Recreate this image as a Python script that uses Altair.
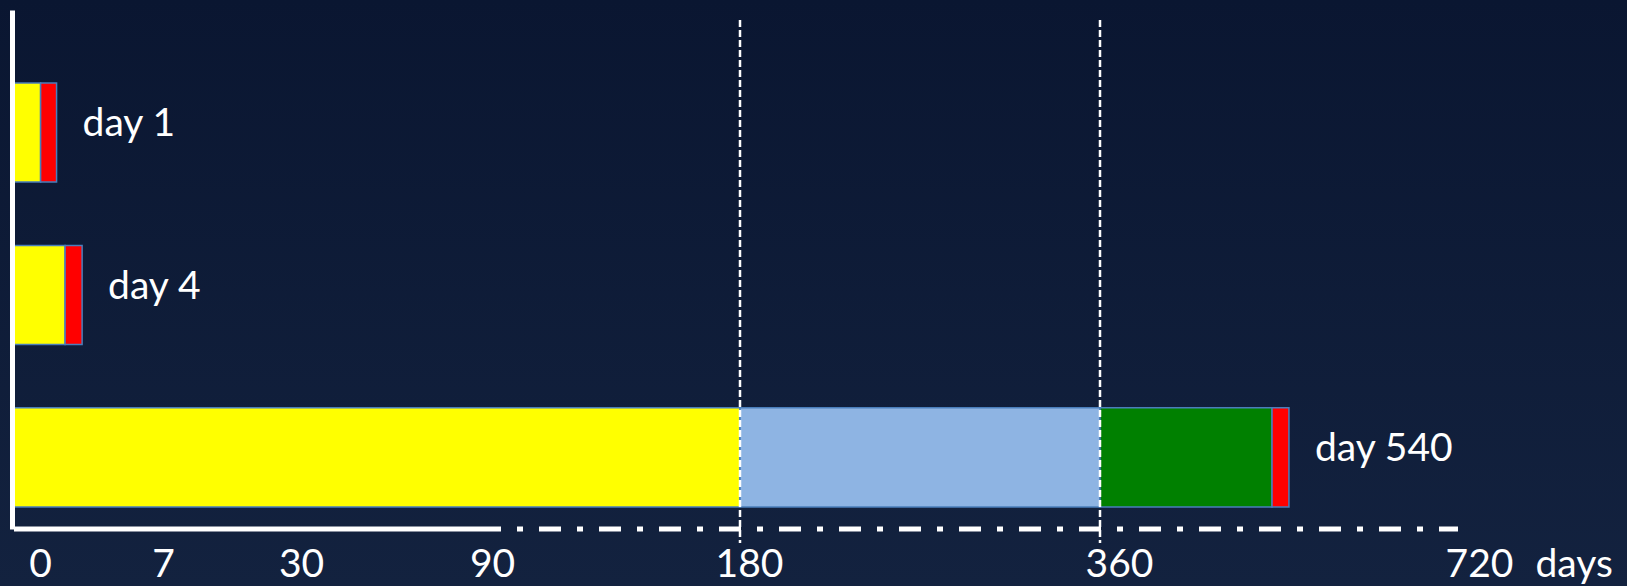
import altair as alt
import pandas as pd

# Time axis: piecewise scale through the labelled milestones (days)
tick_days = [0, 7, 30, 90, 180, 360, 720]
tick_px = [2, 151, 289, 480, 728, 1088, 1446]

# Stacked segments of each timeline bar
seg_row = ["day 1", "day 1", "day 4", "day 4", "day 540", "day 540", "day 540", "day 540"]
seg_phase = ["yellow", "red", "yellow", "red", "yellow", "blue", "green", "red"]
seg_start = [0, 1.25, 0, 2.4, 0, 180, 360, 533]
seg_end = [1.25, 2.0, 2.4, 3.2, 180, 360, 533, 550]

rows = ["day 1", "day 4", "day 540"]
row_end = [2.0, 3.2, 550]

phase_names = ["yellow", "red", "blue", "green"]
phase_colors = ["#FFFF00", "#FF0000", "#8EB4E3", "#008000"]

marker_days = [180, 360]

W, H = 1615, 519
FONT = "Lato"

segs = pd.DataFrame({"row": seg_row, "phase": seg_phase,
                     "start": seg_start, "end": seg_end})
labels = pd.DataFrame({"row": rows, "end": row_end})
markers = pd.DataFrame({"d": marker_days})
solid = pd.DataFrame({"a": [tick_days[0]], "b": [tick_days[3]]})
dashdot = pd.DataFrame({"a": [tick_days[3]], "b": [tick_days[-1]]})

xscale = alt.Scale(domain=tick_days, range=tick_px, zero=False, nice=False)
# band rows fill the full plot height so the left axis line spans it
yscale = alt.Scale(domain=rows, paddingInner=0.39, paddingOuter=0.2923, align=0.768)

label_shift = {
    "condition": [
        {"test": "datum.value == 0", "value": 26},
        {"test": "datum.value == 180", "value": 9},
        {"test": "datum.value == 360", "value": 19},
        {"test": "datum.value == 720", "value": 21},
    ],
    "value": 0,
}

x_axis = alt.Axis(
    values=tick_days, ticks=False, domain=False, grid=False, zindex=2,
    labelFont=FONT, labelFontSize=39, labelColor="white",
    labelPadding=16, labelFlush=False, labelOverlap=False, labelBound=False,
    labelOffset=label_shift,
    title="days", titleFont=FONT, titleFontSize=39, titleFontWeight="normal",
    titleColor="white", titleX=1523, titleY=47, titleAlign="left",
    titleBaseline="alphabetic", titleAngle=0,
)
y_axis = alt.Axis(
    labels=False, ticks=False, grid=False, title=None, zindex=2,
    domain=True, domainColor="white", domainWidth=5,
)

backdrop = alt.Chart(pd.DataFrame({"k": [0]})).mark_rect(
    color=alt.Gradient(
        gradient="linear", x1=0, x2=0, y1=0, y2=1,
        stops=[alt.GradientStop(color="#0a1631", offset=0),
               alt.GradientStop(color="#13223f", offset=1)],
    )
).encode(
    x=alt.value(-12), x2=alt.value(W), y=alt.value(-10), y2=alt.value(H + 57)
)

bars = alt.Chart(segs).mark_bar(stroke="#4a7ebb", strokeWidth=1.5).encode(
    x=alt.X("start:Q", scale=xscale, axis=x_axis),
    x2="end:Q",
    y=alt.Y("row:N", scale=yscale, axis=y_axis),
    color=alt.Color("phase:N", scale=alt.Scale(domain=phase_names, range=phase_colors),
                    legend=None),
)

row_text = alt.Chart(labels).mark_text(
    align="left", baseline="alphabetic", dx=26, dy=4,
    font=FONT, fontSize=39, color="white",
).encode(
    x=alt.X("end:Q", scale=xscale),
    y=alt.Y("row:N", scale=yscale),
    text="row:N",
)

base_solid = alt.Chart(solid).mark_rule(
    color="white", strokeWidth=5, strokeCap="butt"
).encode(
    x=alt.X("a:Q", scale=xscale), x2="b:Q", y=alt.value(H)
)

base_dashdot = alt.Chart(dashdot).mark_rule(
    color="white", strokeWidth=5, strokeCap="butt",
    strokeDash=[22, 16, 6, 16], strokeDashOffset=13,
).encode(
    x=alt.X("a:Q", scale=xscale), x2="b:Q", y=alt.value(H)
)

marker_lines = alt.Chart(markers).mark_rule(
    color="white", strokeWidth=2.5, strokeDash=[7, 3]
).encode(
    x=alt.X("d:Q", scale=xscale), y=alt.value(10), y2=alt.value(533)
)

chart = alt.layer(
    backdrop, bars, row_text, base_solid, base_dashdot, marker_lines
).properties(
    width=W, height=H,
    padding={"left": 12, "top": 10, "right": 0, "bottom": 57},
    autosize=alt.AutoSizeParams(type="none"),
).configure(
    background="#0c1834",
).configure_view(
    stroke=None,
)

chart.save("out.html", embed_options={"renderer": "svg", "actions": False})
